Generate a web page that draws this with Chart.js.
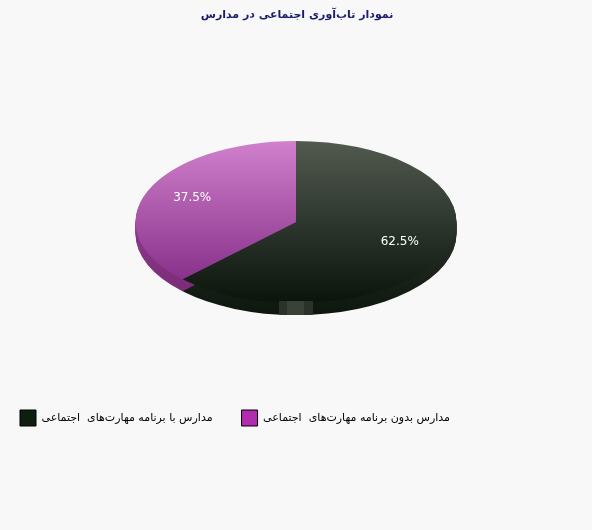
<!DOCTYPE html>
<html>
<head>
<meta charset="utf-8">
<script src="https://cdn.jsdelivr.net/npm/chart.js@4"></script>
<style>
  html, body { margin: 0; padding: 0; background: #f8f8f8; }
  canvas { display: block; }
</style>
</head>
<body>
<canvas id="chart-resilience" width="592" height="530"></canvas>
<script>
const chartTitle = "نمودار تاب‌آوری اجتماعی در مدارس";
const categories = ["مدارس با برنامه مهارت‌های  اجتماعی", "مدارس بدون برنامه مهارت‌های  اجتماعی"];
const shares = [62.5, 37.5];

const legendColors = ["#0e1f10", "#b22cae"];
const wallTopColors = ["#2a302a", "#8c3c8a"];
const wallBottomColors = ["#0d170e", "#742772"];
const topColors = ["#525a50", "#d080cc"];
const bottomColors = ["#0a140b", "#7c2480"];

const squash = 0.505;
const depth = 12;

const verticalGradient = (context) => {
  const { chart, dataIndex } = context;
  if (!chart.chartArea) return topColors[dataIndex];
  const midY = (chart.chartArea.top + chart.chartArea.bottom) / 2;
  const gradient = chart.ctx.createLinearGradient(0, midY - 160.5, 0, midY + 160.5);
  gradient.addColorStop(0, topColors[dataIndex]);
  gradient.addColorStop(1, bottomColors[dataIndex]);
  return gradient;
};

// flattens the pie and adds the side wall of the 3d look
const tiltedPie = {
  id: "tiltedPie",
  beforeDatasetsDraw(chart) {
    const { ctx } = chart;
    const arcs = chart.getDatasetMeta(0).data;
    const { x, y, outerRadius } = arcs[0];

    ctx.save();
    arcs.forEach((arc, i) => {
      const wall = ctx.createLinearGradient(0, y, 0, y + outerRadius * squash + depth);
      wall.addColorStop(0, wallTopColors[i]);
      wall.addColorStop(1, wallBottomColors[i]);
      ctx.fillStyle = wall;
      for (let step = depth; step > 0; step--) {
        ctx.beginPath();
        ctx.ellipse(x, y + step, outerRadius, outerRadius * squash, 0, arc.startAngle, arc.endAngle);
        ctx.lineTo(x, y + step);
        ctx.closePath();
        ctx.fill();
      }
    });
    ctx.restore();

    ctx.save();
    ctx.translate(x, y);
    ctx.scale(1, squash);
    ctx.translate(-x, -y);
  },
  afterDatasetsDraw(chart) {
    const { ctx } = chart;
    ctx.restore();

    const arcs = chart.getDatasetMeta(0).data;
    const { x, y, outerRadius } = arcs[0];

    // light patch on the front edge
    ctx.save();
    ctx.beginPath();
    ctx.ellipse(x, y + depth, outerRadius, outerRadius * squash, 0, 0, Math.PI);
    ctx.closePath();
    ctx.clip();
    ctx.fillStyle = "#2a322a";
    ctx.fillRect(x - 17, y + 79, 34, 16);
    ctx.fillStyle = "#3a4238";
    ctx.fillRect(x - 9, y + 79, 17, 16);
    ctx.restore();

    ctx.save();
    ctx.font = "12px 'DejaVu Sans'";
    ctx.fillStyle = "#ffffff";
    ctx.textAlign = "center";
    ctx.textBaseline = "middle";
    arcs.forEach((arc, i) => {
      const mid = (arc.startAngle + arc.endAngle) / 2;
      const labelX = x + Math.cos(mid) * outerRadius * 0.7;
      const labelY = y + Math.sin(mid) * outerRadius * squash * 0.7 - 2;
      ctx.fillText(shares[i].toFixed(1) + "%", labelX, labelY);
    });
    ctx.restore();
  },
};

new Chart(document.querySelector("#chart-resilience"), {
  type: "pie",
  data: {
    labels: categories,
    datasets: [
      {
        data: shares,
        backgroundColor: verticalGradient,
        borderWidth: 0,
        radius: 160.5,
      },
    ],
  },
  options: {
    responsive: false,
    animation: false,
    layout: {
      padding: { left: -9, right: -11, top: 0, bottom: 94 },
    },
    plugins: {
      title: {
        display: true,
        text: chartTitle,
        color: "#1a1a70",
        font: { family: "DejaVu Sans", size: 11, weight: "bold" },
        padding: { top: 9, bottom: 40.8 },
      },
      legend: {
        position: "bottom",
        align: "start",
        labels: {
          boxWidth: 16,
          boxHeight: 16,
          padding: 29,
          color: "#000000",
          font: { family: "DejaVu Sans", size: 11 },
          generateLabels(chart) {
            return categories.map((text, i) => ({
              text,
              index: i,
              fillStyle: legendColors[i],
              strokeStyle: "#000000",
              lineWidth: 1,
              lineJoin: "miter",
              fontColor: "#000000",
              hidden: false,
            }));
          },
        },
      },
    },
  },
  plugins: [tiltedPie],
});
</script>
</body>
</html>
